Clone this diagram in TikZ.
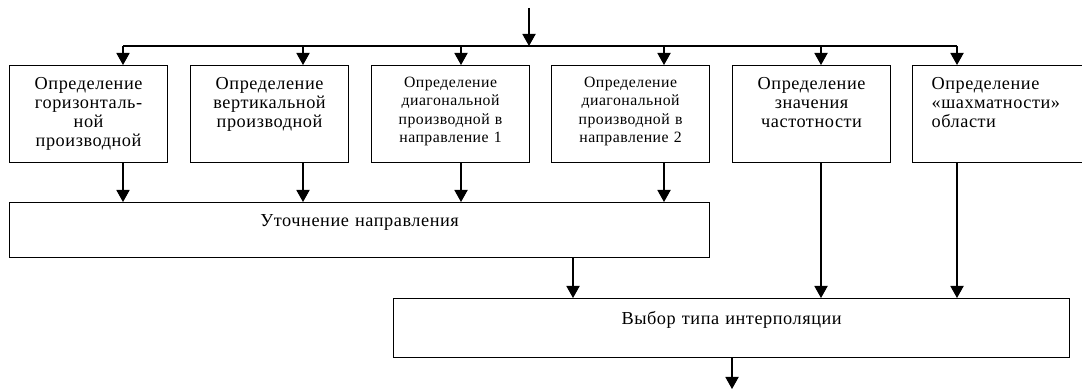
\documentclass[tikz,border=0pt]{standalone}
\usepackage{fontspec}
\setmainfont{Liberation Serif}[LetterSpace=3]
\usetikzlibrary{arrows.meta}

\tikzset{
  blocco/.style={draw, line width=0.8pt, anchor=north west, align=center,
    inner xsep=0.1cm, inner ysep=0pt, text height=0.6cm},
  piccolo/.style={font=\fontsize{11.2}{13}\selectfont, text height=0.55cm},
  freccia/.style={line width=0.8pt, -{Triangle[width=0.33cm,length=0.3cm]}},
  linea/.style={line width=0.8pt}
}

\begin{document}
\begin{tikzpicture}[x=0.025cm,y=-0.025cm,font=\fontsize{13}{13.5}\selectfont]
\useasboundingbox (0,0) rectangle (1082,392);

% blocchi superiori
\node[blocco, text width=3.75cm, text depth=1.825cm] (b1) at (9,65)
  {Определение\\горизонталь-\\ной\\производной};
\node[blocco, text width=3.75cm, text depth=1.825cm] (b2) at (190,65)
  {Определение\\вертикальной\\производной};
\node[blocco, piccolo, text width=3.75cm, text depth=1.875cm] (b3) at (371,65)
  {Определение\\диагональной\\производной в\\направление 1};
\node[blocco, piccolo, text width=3.75cm, text depth=1.875cm] (b4) at (551,65)
  {Определение\\диагональной\\производной в\\направление 2};
\node[blocco, text width=3.75cm, text depth=1.825cm] (b5) at (732,65)
  {Определение\\значения\\частотности};
\node[blocco, align=left, inner xsep=0.475cm, text width=3.325cm, text depth=1.825cm] (b6) at (912,65)
  {Определение\\«шахматности»\\области};

% blocchi inferiori
\node[blocco, text width=17.3cm, text depth=0.775cm] (uto) at (9,202)
  {Уточнение направления};
\node[blocco, text width=16.7cm, text height=0.65cm, text depth=0.825cm] (scelta) at (393,298)
  {Выбор типа интерполяции};

% ingresso e linea comune
\coordinate (ingresso) at (529,8);
\coordinate (nodo) at (529,46);
\foreach \i/\x in {1/123,2/303,3/461,4/664,5/821,6/957}
  \coordinate (s\i) at (\x,46);
\draw[freccia] (ingresso) -- (nodo);
\draw[linea] (s1) -- (s6);
\foreach \i in {1,...,6}
  \draw[freccia] (s\i) -- (s\i |- b\i.north);

% frecce verso il basso
\foreach \i in {1,...,4}
  \draw[freccia] (s\i |- b\i.south) -- (s\i |- uto.north);
\foreach \i in {5,6}
  \draw[freccia] (s\i |- b\i.south) -- (s\i |- scelta.north);
\coordinate (u) at (573,0);
\draw[freccia] (u |- uto.south) -- (u |- scelta.north);
\coordinate (uscita) at (732,389);
\draw[freccia] (uscita |- scelta.south) -- (uscita);

\end{tikzpicture}
\end{document}
